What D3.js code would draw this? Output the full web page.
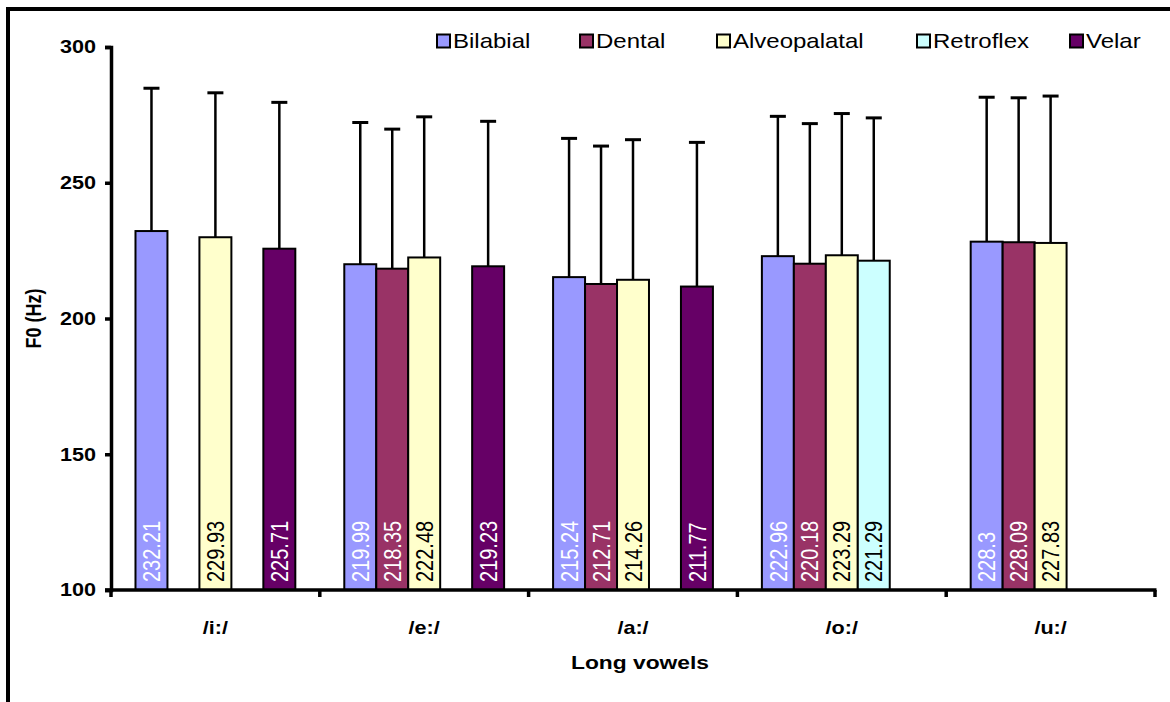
<!DOCTYPE html>
<html>
<head>
<meta charset="utf-8">
<script src="https://cdn.jsdelivr.net/npm/d3@7"></script>
<style>
  html, body { margin: 0; padding: 0; background: #fff; }
  svg { display: block; font-family: "Liberation Sans", Arial, sans-serif; }
</style>
</head>
<body>
<svg id="chart" width="1170" height="702"></svg>
<script>
// Mean F0 per long vowel, by place of articulation of the preceding consonant
const categories = ["/i:/", "/e:/", "/a:/", "/o:/", "/u:/"];
const seriesNames = ["Bilabial", "Dental", "Alveopalatal", "Retroflex", "Velar"];
const seriesColors = ["#9999FF", "#993366", "#FFFFCC", "#CCFFFF", "#660066"];
const labelColors = ["#FFFFFF", "#FFFFFF", "#000000", "#000000", "#FFFFFF"];

const bilabial     = [232.21, 219.99, 215.24, 222.96, 228.3];
const dental       = [null,   218.35, 212.71, 220.18, 228.09];
const alveopalatal = [229.93, 222.48, 214.26, 223.29, 227.83];
const retroflex    = [null,   null,   null,   221.29, null];
const velar        = [225.71, 219.23, 211.77, null,   null];

// Standard deviations (upper error bars)
const bilabialSD     = [52.6, 52.2, 51.1, 51.5, 53.2];
const dentalSD       = [null, 51.4, 50.8, 51.6, 53.2];
const alveopalatalSD = [53.2, 51.8, 51.6, 52.2, 54.1];
const retroflexSD    = [null, null, null, 52.6, null];
const velarSD        = [53.9, 53.4, 53.1, null, null];

const yTicks = [100, 150, 200, 250, 300];

const means = [bilabial, dental, alveopalatal, retroflex, velar];
const sds = [bilabialSD, dentalSD, alveopalatalSD, retroflexSD, velarSD];

const records = [];
categories.forEach((c, ci) => {
  seriesNames.forEach((s, si) => {
    const v = means[si][ci];
    if (v != null) records.push({ cat: c, series: s, si, value: v, sd: sds[si][ci] });
  });
});

// Text is drawn slightly widened horizontally
const SX = 1.2;

const svg = d3.select("#chart");
const plot = { left: 111, right: 1155, top: 47, bottom: 590 };

// Outer frame
svg.append("rect")
  .attr("x", 8).attr("y", 9)
  .attr("width", 1200).attr("height", 800)
  .attr("fill", "none").attr("stroke", "#000").attr("stroke-width", 4);

const x0 = d3.scaleBand().domain(categories).range([plot.left, plot.right]).padding(0);
const x1 = d3.scaleBand().domain(seriesNames).range([0, x0.bandwidth()])
  .paddingInner(0).paddingOuter(0.766);
const y = d3.scaleLinear().domain([100, 300]).range([plot.bottom, plot.top]);

// Error bars (upper only)
const eb = svg.append("g").attr("stroke", "#000").attr("stroke-width", 2.5);
records.forEach(d => {
  const cx = x0(d.cat) + x1(d.series) + x1.bandwidth() / 2;
  const top = y(d.value + d.sd);
  eb.append("line").attr("x1", cx).attr("x2", cx).attr("y1", y(d.value)).attr("y2", top);
  eb.append("line").attr("x1", cx - 8).attr("x2", cx + 8).attr("y1", top).attr("y2", top).attr("stroke-width", 3);
});

// Bars
svg.append("g").selectAll("rect")
  .data(records).join("rect")
  .attr("x", d => x0(d.cat) + x1(d.series))
  .attr("y", d => y(d.value))
  .attr("width", x1.bandwidth())
  .attr("height", d => y(100) - y(d.value))
  .attr("fill", d => seriesColors[d.si])
  .attr("stroke", "#000").attr("stroke-width", 2);

// Value labels, rotated inside bars
svg.append("g").selectAll("text")
  .data(records).join("text")
  .attr("transform", d => {
    const cx = x0(d.cat) + x1(d.series) + x1.bandwidth() / 2;
    return `translate(${cx},${plot.bottom - 8}) scale(${SX},1) rotate(-90)`;
  })
  .attr("dy", "0.36em")
  .attr("font-size", 20)
  .attr("fill", d => labelColors[d.si])
  .text(d => d.value);

// Y axis
const yAxis = svg.append("g")
  .attr("transform", `translate(${plot.left},0)`)
  .call(d3.axisLeft(y).tickValues(yTicks).tickSize(6).tickFormat(d3.format("d")));
yAxis.select(".domain").attr("stroke-width", 3.5);
yAxis.selectAll(".tick line").attr("stroke-width", 3.5);
yAxis.selectAll(".tick text")
  .attr("x", 0)
  .attr("transform", `translate(-15,0) scale(${SX},1)`)
  .attr("font-size", 18).attr("font-weight", "bold")
  .attr("font-family", "Liberation Sans, Arial, sans-serif");

// X axis, ticks at category boundaries
const xAxis = svg.append("g").attr("transform", `translate(0,${plot.bottom})`);
xAxis.append("line")
  .attr("x1", plot.left - 6).attr("x2", plot.right + 1.5)
  .attr("stroke", "#000").attr("stroke-width", 3.5);
const bounds = categories.map(c => x0(c)).concat([x0(categories[categories.length - 1]) + x0.bandwidth()]);
xAxis.selectAll(".xt").data(bounds).join("line")
  .attr("x1", d => d).attr("x2", d => d).attr("y1", 0).attr("y2", 7)
  .attr("stroke", "#000").attr("stroke-width", 3.5);
xAxis.selectAll(".xl").data(categories).join("text")
  .attr("transform", d => `translate(${x0(d) + x0.bandwidth() / 2},44) scale(${SX},1)`)
  .attr("text-anchor", "middle")
  .attr("font-size", 18).attr("font-weight", "bold")
  .text(d => d);

// Axis titles
svg.append("text")
  .attr("transform", `translate(${(plot.left + plot.right) / 2 + 7},669) scale(${SX},1)`)
  .attr("text-anchor", "middle").attr("font-size", 19).attr("font-weight", "bold")
  .text("Long vowels");
svg.append("text")
  .attr("transform", `translate(41,${(plot.top + plot.bottom) / 2}) scale(${SX},1) rotate(-90)`)
  .attr("text-anchor", "middle").attr("font-size", 18).attr("font-weight", "bold")
  .text("F0 (Hz)");

// Legend
const legendX = [437, 580, 717, 917, 1070];
const lg = svg.append("g");
seriesNames.forEach((s, i) => {
  const g = lg.append("g").attr("transform", `translate(${legendX[i]},41)`);
  g.append("rect").attr("x", 0).attr("y", -6.5).attr("width", 13).attr("height", 13)
    .attr("fill", seriesColors[i]).attr("stroke", "#000").attr("stroke-width", 2);
  g.append("text").attr("transform", `translate(16,0) scale(${SX},1)`)
    .attr("dy", "0.36em").attr("font-size", 20).text(s);
});
</script>
</body>
</html>
